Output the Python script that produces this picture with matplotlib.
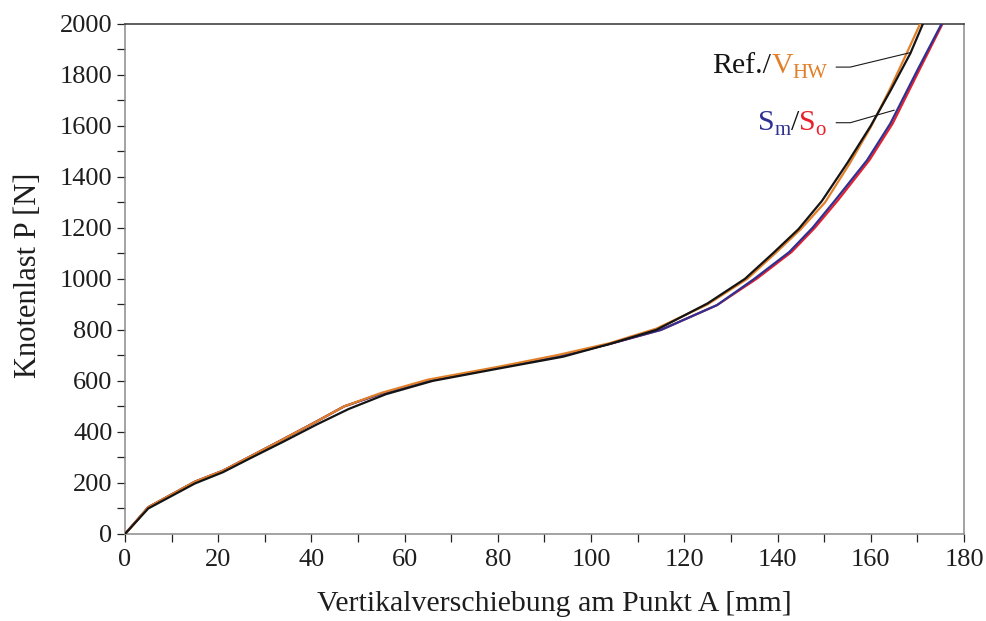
import matplotlib
matplotlib.use("Agg")
import matplotlib.pyplot as plt
from matplotlib.ticker import MultipleLocator

plt.rcParams['font.family'] = ['Liberation Serif', 'DejaVu Serif']

# --- data ---
ref_x = [0, 5, 15, 21, 27, 34, 41, 48, 56, 66, 80, 94, 104, 114, 125, 133, 139, 144.5, 149.5, 155, 160, 164.3, 168.5, 171.2]
ref_y = [0, 100, 198, 242, 298, 362, 428, 490, 548, 600, 648, 695, 745, 800, 904, 1000, 1100, 1195, 1305, 1455, 1600, 1740, 1884, 2000]

vhw_x = [0, 5, 15, 21, 27, 34, 41, 47, 55, 65, 80, 93, 104, 114, 125, 133.5, 139.5, 145, 150.2, 155.4, 160, 164, 167.6, 170.6]
vhw_y = [0, 105, 205, 248, 305, 372, 440, 500, 553, 605, 655, 702, 748, 805, 900, 1000, 1100, 1195, 1300, 1450, 1595, 1740, 1880, 2000]

sm_x = [0, 5, 15, 21, 27, 34, 41, 47, 55, 66, 80, 94, 104, 115, 127, 135, 142.5, 147.5, 152.4, 159.2, 164.2, 170, 175.2]
sm_y = [0, 105, 205, 248, 305, 372, 440, 500, 550, 603, 652, 700, 745, 800, 897, 1000, 1105, 1200, 1309, 1465, 1609, 1818, 2000]

so_x = [0, 5, 15, 21, 27, 34, 41, 47, 55, 66, 80, 94, 104, 115, 127, 135.5, 143, 148, 153, 159.7, 164.7, 170.4, 175.4]
so_y = [0, 105, 205, 248, 305, 372, 440, 500, 550, 603, 652, 700, 745, 800, 897, 1000, 1105, 1200, 1309, 1465, 1609, 1818, 2000]

x_label = "Vertikalverschiebung am Punkt A [mm]"
y_label = "Knotenlast P [N]"

C_BLACK = '#141414'
C_ORANGE = '#e2802a'
C_BLUE = '#2e3192'
C_RED = '#e8202a'

fig = plt.figure(figsize=(9.87, 6.21), dpi=100)
ax = fig.add_axes([0.1266, 0.1401, 0.8501, 0.8217])

ax.plot(so_x, so_y, color=C_RED, lw=1.6, zorder=2)
ax.plot(sm_x, sm_y, color=C_BLUE, lw=1.6, zorder=3)
ax.plot(vhw_x, vhw_y, color=C_ORANGE, lw=1.6, zorder=4)
ax.plot(ref_x, ref_y, color=C_BLACK, lw=1.6, zorder=5)

ax.set_xlim(0, 180)
ax.set_ylim(0, 2000)
ax.xaxis.set_major_locator(MultipleLocator(20))
ax.xaxis.set_minor_locator(MultipleLocator(10))
ax.yaxis.set_major_locator(MultipleLocator(200))
ax.yaxis.set_minor_locator(MultipleLocator(100))

ax.tick_params(which='both', direction='out', length=6, width=0.9, color='#222222')
ax.tick_params(axis='both', which='major', labelsize=19, labelcolor='#1e1e1e')
ax.tick_params(axis='x', which='major', pad=5)
ax.tick_params(axis='y', which='major', pad=3)

for s in ['left', 'bottom', 'right']:
    ax.spines[s].set_color('#8a8a8a')
    ax.spines[s].set_linewidth(1.1)
ax.spines['top'].set_color('#333333')
ax.spines['top'].set_linewidth(1.1)

ax.set_xlabel(x_label, fontsize=21.5, labelpad=14, color='#1e1e1e')
ax.set_ylabel(y_label, fontsize=22, labelpad=12, color='#1e1e1e')
ax.xaxis.label.set_x(0.512)
ax.yaxis.label.set_y(0.507)


def rich_text(ax, x, y, parts):
    prev = None
    for txt, color, size, dy in parts:
        if prev is None:
            prev = ax.text(x, y, txt, color=color, fontsize=size, va='baseline', ha='left', zorder=6)
        else:
            prev = ax.annotate(txt, xy=(1, 0), xycoords=prev, xytext=(0, dy),
                               textcoords='offset points', color=color, fontsize=size,
                               va='bottom', ha='left', zorder=6)
    return prev


main = 21.5
sub = 15
rich_text(ax, 126.0, 1805, [("Ref./", C_BLACK, main, 0), ("V", C_ORANGE, main, 0),
                            ("HW", C_ORANGE, sub, -2.7)])
rich_text(ax, 135.8, 1583, [("S", C_BLUE, main, 0), ("m", C_BLUE, sub, -2.7),
                            ("/", C_BLACK, main, 2.7), ("S", C_RED, main, 0),
                            ("o", C_RED, sub, -2.7)])

# leader lines
ax.plot([152.6, 155.6, 168.3], [1830, 1830, 1886], color='#1a1a1a', lw=0.8, zorder=6)
ax.plot([152.6, 155.6, 165.0], [1612, 1612, 1661], color='#1a1a1a', lw=0.8, zorder=6)

fig.savefig('out.png', dpi=100)
